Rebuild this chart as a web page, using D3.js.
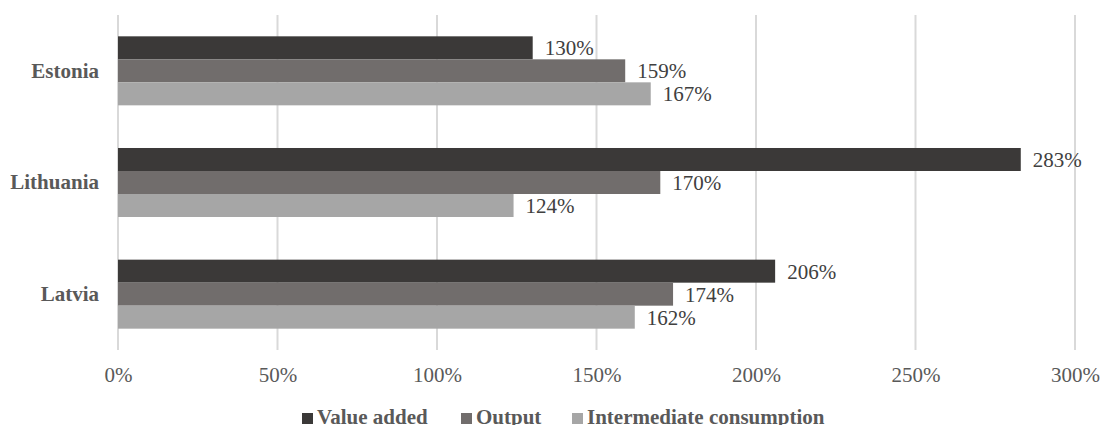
<!DOCTYPE html>
<html>
<head>
<meta charset="utf-8">
<script src="https://cdn.jsdelivr.net/npm/d3@7"></script>
<style>
  body { margin: 0; background: #fff; }
  svg text { font-family: "Liberation Serif", "Times New Roman", serif; }
</style>
</head>
<body>
<div id="chart"></div>
<script>
var countries = ["Estonia", "Lithuania", "Latvia"];
var seriesNames = ["Value added", "Output", "Intermediate consumption"];
var valueAdded = [130, 283, 206];
var output = [159, 170, 174];
var intermediate = [167, 124, 162];
var xTicks = [0, 50, 100, 150, 200, 250, 300];

var colors = ["#3b3938", "#716d6c", "#a6a6a6"];
var width = 1100, height = 425;
var margin = { top: 15, right: 25, bottom: 75, left: 118 };
var fontSize = "21px";

var seriesValues = [valueAdded, output, intermediate];
var rows = [];
countries.forEach(function(c, i) {
    seriesNames.forEach(function(s, j) {
        rows.push({ country: c, series: s, value: seriesValues[j][i], idx: j });
    });
});

var svg = d3.select("#chart")
    .append("svg")
        .attr("width", width)
        .attr("height", height)
        .attr("font-family", "Liberation Serif");

var x = d3.scaleLinear()
    .domain([0, 300])
    .range([margin.left, 1075]);

var y = d3.scaleBand()
    .domain(countries)
    .range([margin.top, height - margin.bottom])
    .paddingInner(0.382)
    .paddingOuter(0.191);

var ySub = d3.scaleBand()
    .domain(seriesNames)
    .range([0, y.bandwidth()]);

// gridlines
svg.append("g")
    .selectAll("line")
    .data(xTicks)
    .enter()
    .append("line")
        .attr("x1", function(d) { return x(d); })
        .attr("x2", function(d) { return x(d); })
        .attr("y1", margin.top)
        .attr("y2", height - margin.bottom)
        .style("stroke", "#d9d9d9")
        .style("stroke-width", 2);

// x axis labels
var xAxis = d3.axisBottom(x)
    .tickValues(xTicks)
    .tickSize(0)
    .tickPadding(0)
    .tickFormat(function(d) { return d + "%"; });

var gx = svg.append("g")
    .attr("transform", "translate(0," + 382 + ")")
    .call(xAxis)
    .attr("font-family", null);
gx.select(".domain").remove();
gx.selectAll("text")
    .attr("dy", 0)
    .style("font-size", fontSize)
    .style("fill", "#595959");

// y axis labels
var yAxis = d3.axisLeft(y).tickSize(0).tickPadding(19);
var gy = svg.append("g")
    .attr("transform", "translate(" + margin.left + ",0)")
    .call(yAxis)
    .attr("font-family", null);
gy.select(".domain").remove();
gy.selectAll("text")
    .style("font-size", fontSize)
    .style("font-weight", "bold")
    .style("fill", "#595959");

// bars
svg.append("g")
    .selectAll("rect")
    .data(rows)
    .enter()
    .append("rect")
        .attr("x", x(0))
        .attr("y", function(d) { return y(d.country) + ySub(d.series); })
        .attr("width", function(d) { return x(d.value) - x(0); })
        .attr("height", ySub.bandwidth())
        .style("fill", function(d) { return colors[d.idx]; });

// value labels
svg.append("g")
    .selectAll("text")
    .data(rows)
    .enter()
    .append("text")
        .attr("x", function(d) { return x(d.value) + 12; })
        .attr("y", function(d) { return y(d.country) + ySub(d.series) + ySub.bandwidth() / 2; })
        .attr("dy", "0.35em")
        .style("font-size", fontSize)
        .style("fill", "#404040")
        .text(function(d) { return d.value + "%"; });

// legend
var legendX = [302, 461, 572];
var legend = svg.append("g")
    .selectAll("g")
    .data(seriesNames)
    .enter()
    .append("g")
        .attr("transform", function(d, i) { return "translate(" + legendX[i] + ",413)"; });

legend.append("rect")
    .attr("width", 11)
    .attr("height", 11)
    .style("fill", function(d, i) { return colors[i]; });

legend.append("text")
    .attr("x", 15)
    .attr("y", 10.5)
    .style("font-size", fontSize)
    .style("font-weight", "bold")
    .style("fill", "#595959")
    .text(function(d) { return d; });
</script>
</body>
</html>
